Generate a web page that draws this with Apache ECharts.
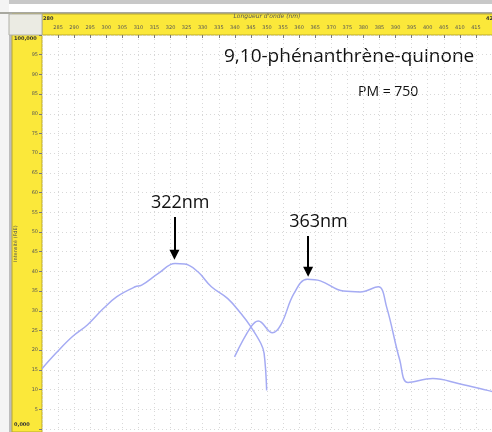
<!DOCTYPE html>
<html>
<head>
<meta charset="utf-8">
<script src="https://cdn.jsdelivr.net/npm/echarts@6/dist/echarts.min.js"></script>
<style>
  html, body { margin: 0; padding: 0; background: #fff; }
  #chart { width: 492px; height: 432px; }
</style>
</head>
<body>
<div id="chart"></div>
<script>
// longueur d'onde (nm) / intensité — courbe 1 (max 322 nm)
const waveA = [280, 284.3, 289.4, 294.1, 299, 303.3, 309, 311, 316.2, 321.4, 324.4, 328.5, 332.7, 337.8, 341.9, 345, 348.1, 349.1, 349.9]
const intA = [15.3, 19.2, 23.4, 26.4, 30.5, 33.6, 36.1, 36.5, 39.5, 42.0, 41.9, 39.9, 36.1, 33.1, 29.3, 25.9, 21.7, 19.2, 9.8]

// courbe 2 (max 363 nm)
const waveB = [339.9, 345, 347.3, 351.7, 354.3, 358.4, 362.5, 366.6, 373.8, 379, 384.6, 387.2, 391.3, 393.9, 401.6, 409.8, 418.6, 421]
const intB = [18.3, 25.9, 27.4, 24.4, 26.4, 34.4, 38.0, 37.6, 35.0, 34.8, 36.1, 31.0, 17.5, 11.8, 12.8, 11.5, 9.8, 9.3]

// annotations
const peaks = [
  { label: '322nm', x: 321.2, from: 53.8, to: 44.2, textX: 323, textY: 57.4 },
  { label: '363nm', x: 362.8, from: 49.0, to: 39.9, textX: 366, textY: 52.6 }
]

const chart = echarts.init(document.getElementById('chart'))

const lineColor = '#a5abf3'
const yellow = '#fbe83a'

const option = {
  animation: false,
  grid: { left: 42, top: 35, right: -5, bottom: 3 },
  xAxis: {
    type: 'value',
    position: 'top',
    min: 280,
    max: 420,
    interval: 5,
    name: "Longueur d'onde (nm)",
    nameLocation: 'middle',
    nameGap: 16,
    nameTextStyle: { fontSize: 6, fontStyle: 'italic', color: '#555', fontFamily: 'DejaVu Sans' },
    axisLine: { show: false, onZero: false },
    axisTick: { show: true, inside: true, length: 3, lineStyle: { color: '#777' } },
    axisLabel: {
      fontSize: 5, color: '#555', margin: 5, fontFamily: 'DejaVu Sans',
      showMinLabel: false, showMaxLabel: false
    },
    splitLine: { show: true, lineStyle: { color: '#d8d8d8', type: [1, 3] } }
  },
  yAxis: {
    type: 'value',
    min: 0,
    max: 100,
    interval: 5,
    axisLine: { show: false, onZero: false },
    axisTick: { show: true, length: 3, lineStyle: { color: '#777' } },
    axisLabel: {
      fontSize: 5, color: '#555', margin: 4, fontFamily: 'DejaVu Sans',
      formatter: v => (v === 0 || v === 100) ? '' : String(v)
    },
    splitLine: { show: true, lineStyle: { color: '#d8d8d8', type: [1, 3] } }
  },
  graphic: [
    // bandeaux jaunes des axes
    { type: 'rect', z: -1, shape: { x: 12, y: 14, width: 30, height: 418 }, style: { fill: yellow, stroke: '#b8a830', lineWidth: 1 } },
    { type: 'rect', z: -1, shape: { x: 42, y: 14, width: 460, height: 21 }, style: { fill: yellow, stroke: '#b8a830', lineWidth: 1 } },
    { type: 'rect', z: -1, shape: { x: 9, y: 14, width: 33, height: 21 }, style: { fill: '#ebebe3', stroke: '#b0b0a8', lineWidth: 1 } },
    // fenêtre à gauche / en haut
    { type: 'rect', z: -2, shape: { x: 0, y: 0, width: 492, height: 4 }, style: { fill: '#c8c8c8' } },
    { type: 'rect', z: -2, shape: { x: 0, y: 0, width: 9, height: 432 }, style: { fill: '#f4f4f4' } },
    { type: 'rect', z: -2, shape: { x: 9, y: 14, width: 3, height: 418 }, style: { fill: '#bdbdbd' } },
    { type: 'rect', z: -2, shape: { x: 0, y: 12, width: 492, height: 2 }, style: { fill: '#a8a8a0' } },
    { type: 'text', x: 43, y: 16, style: { text: '280', fontSize: 5, fontWeight: 'bold', fill: '#333', fontFamily: 'DejaVu Sans' } },
    { type: 'text', x: 486, y: 16, style: { text: '420', fontSize: 5, fontWeight: 'bold', fill: '#333', fontFamily: 'DejaVu Sans' } },
    { type: 'text', x: 14, y: 36, style: { text: '100,000', fontSize: 5, fontWeight: 'bold', fill: '#333', fontFamily: 'DejaVu Sans' } },
    { type: 'text', x: 14, y: 422, style: { text: '0,000', fontSize: 5, fontWeight: 'bold', fill: '#333', fontFamily: 'DejaVu Sans' } },
    { type: 'text', x: 13, y: 262, rotation: Math.PI / 2, style: { text: 'Intensité (FdE)', fontSize: 5, fill: '#555', fontFamily: 'DejaVu Sans' } },
    // titre
    { type: 'text', x: 224, y: 47, style: { text: '9,10-phénanthrène-quinone', fontSize: 19, fill: '#111', fontFamily: 'Open Sans' } },
    { type: 'text', x: 358, y: 85, style: { text: 'PM = 750', fontSize: 14, fill: '#111', fontFamily: 'Open Sans' } }
  ],
  series: [
    {
      type: 'line',
      data: waveA.map((w, i) => [w, intA[i]]),
      smooth: 0.4,
      showSymbol: false,
      lineStyle: { color: lineColor, width: 1.5 },
      markLine: {
        silent: true,
        symbol: ['none', 'triangle'],
        symbolSize: [10, 10],
        lineStyle: { color: '#000', width: 2, type: 'solid' },
        label: { show: false },
        data: peaks.map(p => [{ coord: [p.x, p.from] }, { coord: [p.x, p.to] }])
      },
      markPoint: {
        silent: true,
        symbol: 'rect',
        symbolSize: 0,
        label: { show: true, fontSize: 18, color: '#111', fontFamily: 'Open Sans' },
        data: peaks.map(p => ({ coord: [p.textX, p.textY], value: p.label, label: { formatter: p.label } }))
      }
    },
    {
      type: 'line',
      data: waveB.map((w, i) => [w, intB[i]]),
      smooth: 0.4,
      showSymbol: false,
      lineStyle: { color: lineColor, width: 1.5 }
    }
  ]
}

chart.setOption(option)
</script>
</body>
</html>
